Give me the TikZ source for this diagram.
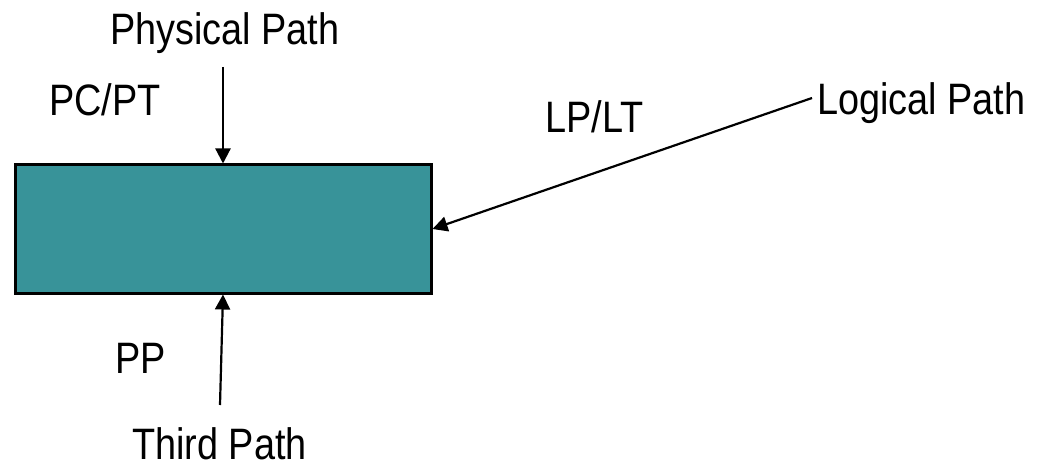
\documentclass[tikz,border=0pt]{standalone}
\usepackage{fontspec}
\setmainfont[FakeStretch=0.86]{Liberation Sans}
\usetikzlibrary{arrows.meta}
\definecolor{tealfill}{RGB}{56,147,153}
\begin{document}
\begin{tikzpicture}[x=1pt,y=-1pt,
  lbl/.style={inner sep=0pt, anchor=base west, font=\fontsize{44}{50}\selectfont},
  conn/.style={line width=2.2pt, -{Triangle[length=15pt,width=15pt]}},
  boxstyle/.style={draw=black, line width=3pt, fill=tealfill, minimum width=416pt, minimum height=128pt, inner sep=0pt}]
\useasboundingbox (0,0) rectangle (1043,465);
\node[boxstyle] (box) at (223,229) {};
\node[lbl] (phys) at (110,45) {Physical Path};
\node[lbl] (pcpt) at (49,116) {PC/PT};
\node[lbl] (lplt) at (545,133) {LP/LT};
\node[lbl] (logi) at (817,115) {Logical Path};
\node[lbl] (pp) at (115,373) {PP};
\node[lbl] (third) at (132,459) {Third Path};
\coordinate (ptop) at (223,67);
\coordinate (pbot) at (220,405);
\coordinate (plog) at (812,98);
\draw[conn] (ptop) -- (box.north);
\draw[conn] (pbot) -- (box.south);
\draw[conn] (plog) -- (box.east);
\end{tikzpicture}
\end{document}
